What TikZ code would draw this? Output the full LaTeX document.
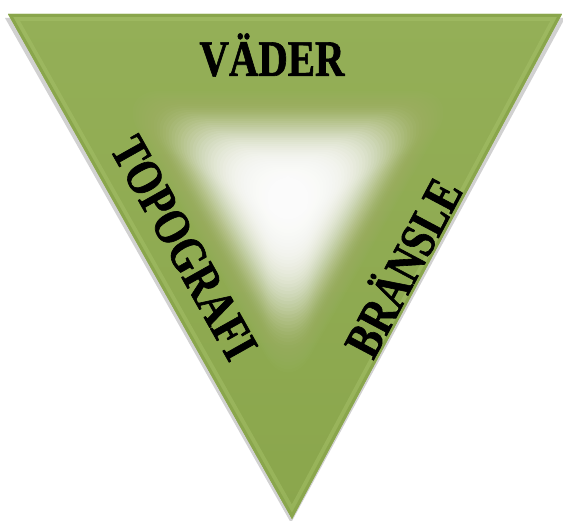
\documentclass[tikz,border=0pt]{standalone}
\usepackage{fontspec}
\newfontfamily\labelfont[FakeStretch=0.8,FakeBold=1.2]{Liberation Serif}
\begin{document}
\begin{tikzpicture}[x=1pt,y=-1pt,line join=round]
\definecolor{leafTop}{HTML}{94AF57}
\definecolor{leafBot}{HTML}{8AA64C}
\definecolor{leafRim}{HTML}{A9C46C}
\tikzset{factor/.style={font=\labelfont\bfseries\fontsize{51}{51}\selectfont,text=black,inner sep=0pt}}
\useasboundingbox (0,0) rectangle (563,521);
\coordinate (tl) at (8,14);
\coordinate (tr) at (562,14);
\coordinate (bt) at (292,519);
% shadow
\fill[black,opacity=.18] ([shift={(-3,4)}]tl) -- ([shift={(3,4)}]tr) -- ([shift={(-1,4)}]bt) -- cycle;
% body
\shade[top color=leafTop,bottom color=leafBot] (tl) -- (tr) -- (bt) -- cycle;
\begin{scope}
\clip (tl) -- (tr) -- (bt) -- cycle;
\draw[leafRim,line width=14pt,opacity=.45] (tl) -- (tr) -- (bt) -- cycle;
\draw[leafBot,line width=6pt] (tl) -- (tr) -- (bt) -- cycle;
% glow
\foreach \s in {1.15,1.13,...,0.2}
  \pgfmathsetmacro\op{max(0.01,0.02+0.24*(1-\s))}
  \fill[white,opacity=\op,rounded corners=45pt,shift={(288,200)},scale=\s]
    (-150,-95) -- (150,-95) -- (0,170) -- cycle;
\end{scope}
\node[factor] (vader) at (272,55) {VÄDER};
\node[factor,rotate=-60.7] (topo) at (184,248) {TOPOGRAFI};
\node[factor,rotate=62] (bransle) at (400,266) {BRÄNSLE};
\end{tikzpicture}
\end{document}
